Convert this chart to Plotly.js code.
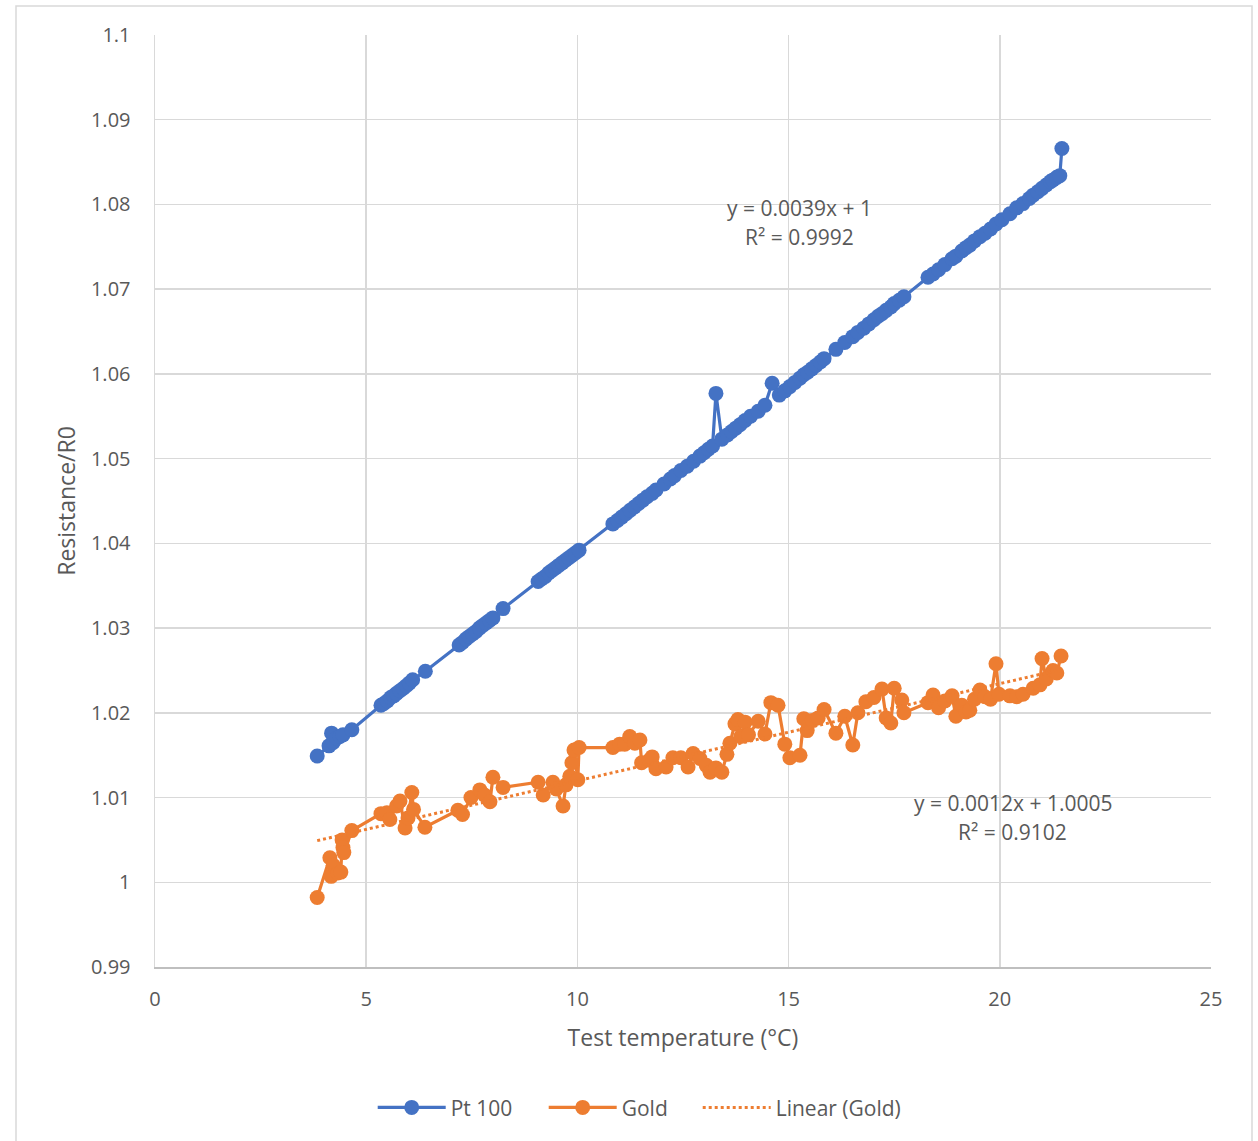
<!DOCTYPE html>
<html>
<head>
<meta charset="utf-8">
<script src="https://cdn.plot.ly/plotly-3.0.1.min.js"></script>
<style>
  html, body { margin: 0; padding: 0; background: #ffffff; }
  #chart { width: 1258px; height: 1141px; }
</style>
</head>
<body>
<div id="chart"></div>
<script>
// ---- Data ----
const ptTemp = [3.84, 4.12, 4.18, 4.22, 4.30, 4.38, 4.45, 4.66,
  5.35, 5.42, 5.50, 5.58, 5.65, 5.72, 5.80, 5.88, 5.95, 6.02, 6.10,
  6.40,
  7.20, 7.28, 7.36, 7.44, 7.52, 7.60, 7.68, 7.76, 7.84, 7.92, 8.00,
  8.24,
  9.07, 9.15, 9.24, 9.32, 9.40, 9.48, 9.56, 9.64, 9.72, 9.80, 9.88, 9.96, 10.04,
  10.84, 10.95, 11.05, 11.15, 11.25, 11.35, 11.45, 11.55, 11.65, 11.77, 11.86,
  12.05, 12.20, 12.30, 12.45, 12.60, 12.75, 12.90, 13.00, 13.10, 13.20,
  13.28, 13.42, 13.55, 13.65, 13.75, 13.85, 13.97, 14.10, 14.28, 14.44,
  14.61, 14.78, 14.91, 15.03, 15.15, 15.27, 15.36, 15.45, 15.55, 15.65, 15.75, 15.84,
  16.12, 16.33, 16.52, 16.64, 16.78, 16.90, 17.02, 17.12, 17.21, 17.31, 17.42, 17.50, 17.62, 17.73,
  18.30, 18.42, 18.55, 18.70, 18.87, 18.96, 19.10, 19.20, 19.29, 19.40, 19.53, 19.65, 19.78, 19.91,
  20.05, 20.24, 20.40, 20.55, 20.70, 20.79, 20.90, 21.00, 21.10, 21.20, 21.26, 21.35, 21.42, 21.47];

const ptRes = [1.0149, 1.0161, 1.0176, 1.0165, 1.0170, 1.0172, 1.0174, 1.0180,
  1.0209, 1.0211, 1.0214, 1.0218, 1.0220, 1.0223, 1.0226, 1.0229, 1.0232, 1.0235, 1.0239,
  1.0249,
  1.0280, 1.0283, 1.0287, 1.0290, 1.0293, 1.0296, 1.0300, 1.0303, 1.0306, 1.0309, 1.0312,
  1.0323,
  1.0355, 1.0358, 1.0361, 1.0365, 1.0368, 1.0371, 1.0374, 1.0377, 1.0380, 1.0383, 1.0386, 1.0389, 1.0392,
  1.0423, 1.0427, 1.0431, 1.0435, 1.0439, 1.0443, 1.0447, 1.0451, 1.0455, 1.0459, 1.0463,
  1.0470, 1.0476, 1.0480, 1.0486, 1.0491, 1.0497, 1.0503, 1.0507, 1.0511, 1.0515,
  1.0577, 1.0523, 1.0528, 1.0532, 1.0536, 1.0540, 1.0545, 1.0550, 1.0556, 1.0563,
  1.0589, 1.0575, 1.0580, 1.0585, 1.0590, 1.0595, 1.0599, 1.0602, 1.0606, 1.0610, 1.0614, 1.0618,
  1.0629, 1.0637, 1.0644, 1.0649, 1.0654, 1.0659, 1.0664, 1.0668, 1.0671, 1.0675, 1.0679, 1.0683, 1.0687, 1.0691,
  1.0714, 1.0718, 1.0723, 1.0729, 1.0736, 1.0739, 1.0745, 1.0749, 1.0752, 1.0757, 1.0762, 1.0766, 1.0771, 1.0777,
  1.0782, 1.0789, 1.0796, 1.0801, 1.0807, 1.0811, 1.0815, 1.0819, 1.0823, 1.0827, 1.0829, 1.0832, 1.0834, 1.0866];

const goldTemp = [3.84, 4.14, 4.17, 4.22, 4.33, 4.40, 4.43, 4.45, 4.47, 4.66,
  5.35, 5.49, 5.56, 5.72, 5.80, 5.92, 5.99, 6.08, 6.12, 6.39,
  7.17, 7.28, 7.48, 7.69, 7.80, 7.93, 8.00, 8.24,
  9.07, 9.19, 9.42, 9.50, 9.66, 9.73, 9.82, 9.87, 9.92, 10.01, 10.04,
  10.84, 11.00, 11.12, 11.24, 11.36, 11.48, 11.52, 11.70, 11.77, 11.86,
  12.10, 12.26, 12.45, 12.62, 12.74, 12.90, 13.05, 13.14, 13.28, 13.42,
  13.54, 13.61, 13.73, 13.80, 13.87, 13.97, 14.05, 14.28, 14.44, 14.58, 14.75,
  14.91, 15.03, 15.27, 15.36, 15.44, 15.56, 15.70, 15.84,
  16.12, 16.33, 16.52, 16.64, 16.83, 17.02, 17.21, 17.31, 17.42, 17.50, 17.68, 17.73,
  18.30, 18.42, 18.55, 18.70, 18.87, 18.96, 19.10, 19.20, 19.29, 19.40, 19.53, 19.65, 19.78, 19.91, 19.98,
  20.24, 20.40, 20.55, 20.79, 20.95, 21.00, 21.10, 21.26, 21.35, 21.45];

const goldRes = [0.9982, 1.0029, 1.0007, 1.0020, 1.0011, 1.0012, 1.0050, 1.0041, 1.0035, 1.0061,
  1.0081, 1.0082, 1.0074, 1.0090, 1.0096, 1.0064, 1.0076, 1.0106, 1.0086, 1.0065,
  1.0085, 1.0080, 1.0100, 1.0109, 1.0103, 1.0095, 1.0124, 1.0112,
  1.0118, 1.0103, 1.0118, 1.0110, 1.0090, 1.0115, 1.0125, 1.0141, 1.0156, 1.0121, 1.0159,
  1.0159, 1.0163, 1.0163, 1.0172, 1.0164, 1.0168, 1.0141, 1.0144, 1.0148, 1.0134,
  1.0136, 1.0147, 1.0147, 1.0136, 1.0152, 1.0146, 1.0138, 1.0130, 1.0135, 1.0130,
  1.0151, 1.0164, 1.0187, 1.0192, 1.0172, 1.0189, 1.0174, 1.0190, 1.0175, 1.0212, 1.0209,
  1.0163, 1.0147, 1.0150, 1.0193, 1.0179, 1.0191, 1.0194, 1.0204,
  1.0176, 1.0196, 1.0162, 1.0200, 1.0213, 1.0218, 1.0228, 1.0194, 1.0188, 1.0229, 1.0215, 1.0200,
  1.0212, 1.0221, 1.0206, 1.0214, 1.0220, 1.0196, 1.0209, 1.0201, 1.0203, 1.0216, 1.0227, 1.0219, 1.0216, 1.0258, 1.0222,
  1.0220, 1.0219, 1.0222, 1.0229, 1.0233, 1.0264, 1.0240, 1.0250, 1.0247, 1.0267];

const seriesNames = ["Pt 100", "Gold", "Linear (Gold)"];
const ptLabel = ["y = 0.0039x + 1", "R² = 0.9992"];
const goldLabel = ["y = 0.0012x + 1.0005", "R² = 0.9102"];
const xTicks = [0, 5, 10, 15, 20, 25];
const yTicks = [0.99, 1, 1.01, 1.02, 1.03, 1.04, 1.05, 1.06, 1.07, 1.08, 1.09, 1.1];

// least-squares trendline for Gold (computed from the data)
function linfit(xs, ys) {
  const n = xs.length;
  let sx = 0, sy = 0, sxx = 0, sxy = 0;
  for (let i = 0; i < n; i++) { sx += xs[i]; sy += ys[i]; sxx += xs[i]*xs[i]; sxy += xs[i]*ys[i]; }
  const m = (n*sxy - sx*sy) / (n*sxx - sx*sx);
  const b = (sy - m*sx) / n;
  return {m, b};
}
const gfit = linfit(goldTemp, goldRes);
const gx0 = Math.min(...goldTemp), gx1 = Math.max(...goldTemp);
const trendX = [gx0, gx1];
const trendY = trendX.map(x => gfit.m * x + gfit.b);

const BLUE = "#4472C4", ORANGE = "#ED7D31", TXT = "#595959", GRID = "#d9d9d9";
const FONT = "Open Sans, Noto Sans, sans-serif";

const traces = [
  { x: ptTemp, y: ptRes, name: seriesNames[0], type: "scatter", mode: "lines+markers",
    line: { color: BLUE, width: 3.2 }, marker: { color: BLUE, size: 15 }, legendwidth: 88 },
  { x: goldTemp, y: goldRes, name: seriesNames[1], type: "scatter", mode: "lines+markers",
    line: { color: ORANGE, width: 3.2 }, marker: { color: ORANGE, size: 15 }, legendwidth: 71 },
  { x: trendX, y: trendY, name: seriesNames[2], type: "scatter", mode: "lines",
    line: { color: ORANGE, width: 3, dash: "dot" }, legendwidth: 126 }
];

const W = 1056, H = 932; // plot area size
const layout = {
  width: 1258, height: 1141,
  margin: { l: 155, r: 47, t: 35, b: 174 },
  paper_bgcolor: "#ffffff", plot_bgcolor: "#ffffff",
  font: { family: FONT, color: TXT, size: 20 },
  showlegend: true,
  legend: { orientation: "h", x: 0.459, xanchor: "center", y: -0.151, yanchor: "middle",
    font: { size: 21, color: TXT }, traceorder: "normal", itemwidth: 68 },
  xaxis: {
    range: [0, 25], tickvals: xTicks, ticktext: xTicks.map(String),
    showgrid: true, gridcolor: GRID, gridwidth: 1.5, zeroline: false,
    showline: true, linecolor: "#bfbfbf", linewidth: 1.5,
    ticks: "", ticklabelstandoff: 13,
    tickfont: { size: 20, color: TXT },
    title: { text: "Test temperature (°C)", font: { size: 23, color: TXT }, standoff: 19 }
  },
  yaxis: {
    range: [0.99, 1.1], tickvals: yTicks, ticktext: yTicks.map(String),
    showgrid: true, gridcolor: GRID, gridwidth: 1.5, zeroline: false,
    showline: true, linecolor: GRID, linewidth: 1.5,
    ticks: "", ticklabelstandoff: 19,
    tickfont: { size: 20, color: TXT },
    title: { text: "Resistance/R0", font: { size: 23, color: TXT }, standoff: 9 }
  },
  annotations: [
    { x: 15.25, y: 1.0796, xref: "x", yref: "y", text: ptLabel[0], showarrow: false, font: { size: 21, color: TXT } },
    { x: 15.25, y: 1.0762, xref: "x", yref: "y", text: ptLabel[1], showarrow: false, font: { size: 21, color: TXT } },
    { x: 20.31, y: 1.0094, xref: "x", yref: "y", text: goldLabel[0], showarrow: false, font: { size: 21, color: TXT } },
    { x: 20.31, y: 1.0059, xref: "x", yref: "y", text: goldLabel[1], showarrow: false, font: { size: 21, color: TXT } }
  ],
  shapes: [
    { type: "rect", xref: "paper", yref: "paper",
      x0: (16 - 155) / W, x1: (1252 - 155) / W, y0: (967 - 1160) / H, y1: (967 - 6) / H,
      line: { color: GRID, width: 1.5 }, fillcolor: "rgba(0,0,0,0)", layer: "below" }
  ]
};

Plotly.newPlot("chart", traces, layout, { staticPlot: true, displayModeBar: false });
</script>
</body>
</html>
